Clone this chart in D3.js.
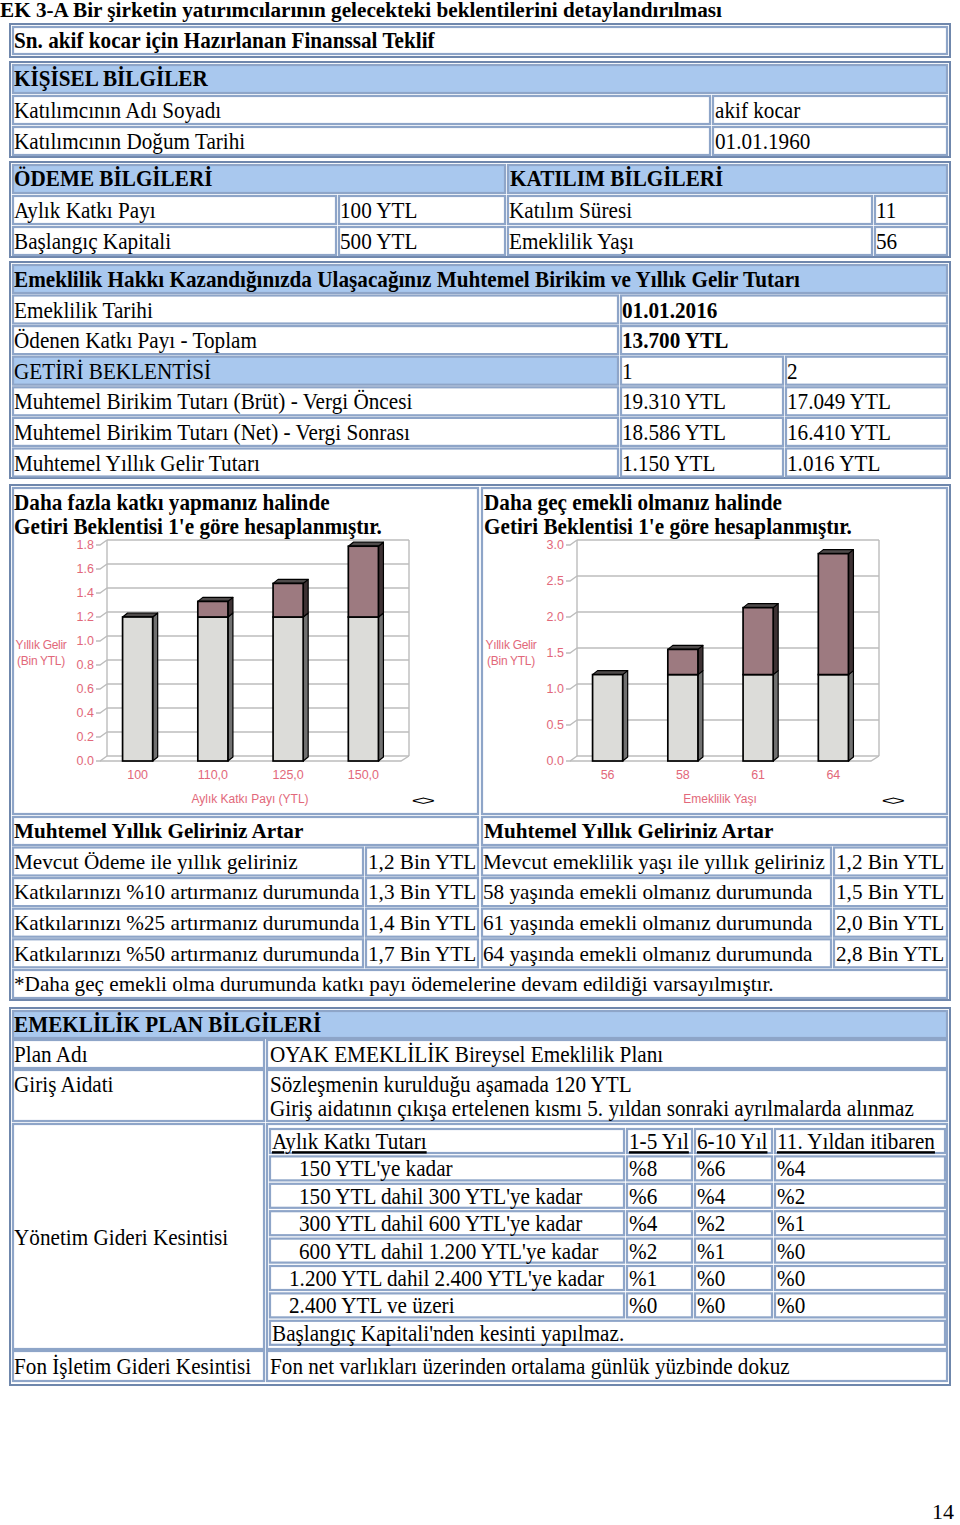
<!DOCTYPE html>
<html><head><meta charset="utf-8">
<script src="https://cdn.jsdelivr.net/npm/d3@7"></script>
<style>body{margin:0;background:#fff} svg{display:block}</style>
</head><body>
<script>
// ---------- DATA ----------
const pageTitle = "EK 3-A Bir şirketin yatırımcılarının gelecekteki beklentilerini detaylandırılması";
const offerTitle = "Sn. akif kocar için Hazırlanan Finanssal Teklif";
const personalRows = [["Katılımcının Adı Soyadı","akif kocar"],["Katılımcının Doğum Tarihi","01.01.1960"]];
const paymentRows = [["Aylık Katkı Payı","100 YTL","Katılım Süresi","11"],["Başlangıç Kapitali","500 YTL","Emeklilik Yaşı","56"]];
const resultHeader = "Emeklilik Hakkı Kazandığınızda Ulaşacağınız Muhtemel Birikim ve Yıllık Gelir Tutarı";
const resultRows1 = [["Emeklilik Tarihi","01.01.2016"],["Ödenen Katkı Payı - Toplam","13.700 YTL"]];
const resultRows2 = [["GETİRİ BEKLENTİSİ","1","2"],
  ["Muhtemel Birikim Tutarı (Brüt) - Vergi Öncesi","19.310 YTL","17.049 YTL"],
  ["Muhtemel Birikim Tutarı (Net) - Vergi Sonrası","18.586 YTL","16.410 YTL"],
  ["Muhtemel Yıllık Gelir Tutarı","1.150 YTL","1.016 YTL"]];
const leftChartTitle = ["Daha fazla katkı yapmanız halinde","Getiri Beklentisi 1'e göre hesaplanmıştır."];
const rightChartTitle = ["Daha geç emekli olmanız halinde","Getiri Beklentisi 1'e göre hesaplanmıştır."];
const leftCategories = ["100","110,0","125,0","150,0"];
const leftBase = [1.2,1.2,1.2,1.2];
const leftExtra = [0,0.13,0.28,0.59];
const leftTicks = [0,0.2,0.4,0.6,0.8,1.0,1.2,1.4,1.6,1.8];
const leftXLabel = "Aylık Katkı Payı (YTL)";
const rightCategories = ["56","58","61","64"];
const rightBase = [1.2,1.2,1.2,1.2];
const rightExtra = [0,0.35,0.93,1.68];
const rightTicks = [0,0.5,1.0,1.5,2.0,2.5,3.0];
const rightXLabel = "Emeklilik Yaşı";
const yLabelLines = ["Yıllık Gelir","(Bin YTL)"];
const incomeHeader = "Muhtemel Yıllık Geliriniz Artar";
const leftIncomeRows = [["Mevcut Ödeme ile yıllık geliriniz","1,2 Bin YTL"],["Katkılarınızı %10 artırmanız durumunda","1,3 Bin YTL"],["Katkılarınızı %25 artırmanız durumunda","1,4 Bin YTL"],["Katkılarınızı %50 artırmanız durumunda","1,7 Bin YTL"]];
const rightIncomeRows = [["Mevcut emeklilik yaşı ile yıllık geliriniz","1,2 Bin YTL"],["58 yaşında emekli olmanız durumunda","1,5 Bin YTL"],["61 yaşında emekli olmanız durumunda","2,0 Bin YTL"],["64 yaşında emekli olmanız durumunda","2,8 Bin YTL"]];
const footnote = "*Daha geç emekli olma durumunda katkı payı ödemelerine devam edildiği varsayılmıştır.";
const planHeader = "EMEKLİLİK PLAN BİLGİLERİ";
const planName = ["Plan Adı","OYAK EMEKLİLİK Bireysel Emeklilik Planı"];
const entryFee = ["Giriş Aidati","Sözleşmenin kurulduğu aşamada 120 YTL","Giriş aidatının çıkışa ertelenen kısmı 5. yıldan sonraki ayrılmalarda alınmaz"];
const mgmtLabel = "Yönetim Gideri Kesintisi";
const feeHeader = ["Aylık Katkı Tutarı","1-5 Yıl","6-10 Yıl","11. Yıldan itibaren"];
const feeRows = [["150 YTL'ye kadar","%8","%6","%4"],["150 YTL dahil 300 YTL'ye kadar","%6","%4","%2"],["300 YTL dahil 600 YTL'ye kadar","%4","%2","%1"],["600 YTL dahil 1.200 YTL'ye kadar","%2","%1","%0"],["1.200 YTL dahil 2.400 YTL'ye kadar","%1","%0","%0"],["2.400 YTL ve üzeri","%0","%0","%0"]];
const feeIndent = [29,29,29,29,19,19];
const feeNote = "Başlangıç Kapitali'nden kesinti yapılmaz.";
const fundFee = ["Fon İşletim Gideri Kesintisi","Fon net varlıkları üzerinden ortalama günlük yüzbinde dokuz"];
const pageNumber = "14";

// ---------- DRAW ----------
const svg = d3.select('body').append('svg').attr('width',960).attr('height',1525);
svg.append('rect').attr('width',960).attr('height',1525).attr('fill','#fff');
const SERIF = "'Liberation Serif','Times New Roman',serif";
const SANS = "'Liberation Sans',Arial,sans-serif";
const FS = 21.2;
const BLUE = '#a9c8ee';
const PINK = '#e2687a';
function T(x, yc, s, o={}) {
  const sy = o.sy ?? 1.12;
  const g = svg.append('g').attr('transform',`translate(${x},${yc}) scale(1,${sy})`);
  const t = g.append('text').attr('x',0).attr('y',0).attr('dy','0.34em')
    .attr('font-family', o.font||SERIF).attr('font-size', o.size||FS)
    .attr('font-weight', o.bold?'bold':'normal').attr('fill', o.fill||'#000')
    .attr('text-anchor', o.anchor||'start').text(s);
  if (o.underline) t.style('text-decoration','underline');
  if (o.len) t.attr('textLength',o.len).attr('lengthAdjust','spacingAndGlyphs');
  return t;
}
function TBL(x0,y0,x1,y1){
  svg.append('rect').attr('x',x0).attr('y',y0).attr('width',x1-x0).attr('height',y1-y0)
    .attr('fill','#fff').attr('stroke','#6f87ac').attr('stroke-width',2);
}
function C(x0,y0,x1,y1,fill){
  svg.append('rect').attr('x',x0).attr('y',y0).attr('width',x1-x0).attr('height',y1-y0)
    .attr('fill',fill||'#fff').attr('stroke','#8ea5c8').attr('stroke-width',2.2);
}

// title
T(0, 10, pageTitle, {bold:true, len:722, size:20, sy:1.0});

// Table A
TBL(10,24,950,57); C(13,27,947,54);
T(14,40,offerTitle,{bold:true});

// Table B
TBL(10,62,950,157);
C(13,65,947,93,BLUE); T(14,78,"KİŞİSEL BİLGİLER",{bold:true});
personalRows.forEach((r,i)=>{
  const y0 = 96+i*31;
  C(13,y0,710,y0+28); C(713,y0,947,y0+28);
  T(14,y0+14,r[0]); T(715,y0+14,r[1]);
});

// Table C
TBL(10,162,950,257);
C(13,165,505,193,BLUE); C(508,165,947,193,BLUE);
T(14,178,"ÖDEME BİLGİLERİ",{bold:true}); T(510,178,"KATILIM BİLGİLERİ",{bold:true});
const colsC = [[13,336],[339,505],[508,872],[875,947]];
paymentRows.forEach((r,i)=>{
  const y0 = 196+i*31;
  colsC.forEach((c,j)=>{ C(c[0],y0,c[1],y0+28); T(c[0]+1,y0+14,r[j]); });
});

// Table D
TBL(10,262,950,478);
C(13,265,947,293,BLUE); T(14,279,resultHeader,{bold:true});
resultRows1.forEach((r,i)=>{
  const y0 = 295.5+i*30.6;
  C(13,y0,618,y0+28); C(621,y0,947,y0+28);
  T(14,y0+14,r[0]); T(622,y0+14,r[1],{bold:true});
});
resultRows2.forEach((r,i)=>{
  const y0 = 356.7+i*30.6;
  C(13,y0,618,y0+28,i===0?BLUE:'#fff'); C(621,y0,783,y0+28); C(786,y0,947,y0+28);
  T(14,y0+14,r[0]); T(622,y0+14,r[1]); T(787,y0+14,r[2]);
});

// Table E
TBL(10,485,950,1000);
C(13,488,478,814); C(482,488,947,814);
T(14,502,leftChartTitle[0],{bold:true}); T(14,526,leftChartTitle[1],{bold:true});
T(484,502,rightChartTitle[0],{bold:true}); T(484,526,rightChartTitle[1],{bold:true});

function chart(x0, cats, base, extra, ticks, maxV, xLabel, markX) {
  const dx = 8, dy = -5, W = 301;
  const y = d3.scaleLinear().domain([0,maxV]).range([761,545]);
  const x = d3.scaleBand().domain(cats).range([x0,x0+W]).paddingInner(0.6).paddingOuter(0.3);
  const g = svg.append('g');
  const grid = '#bcbcbc';
  ticks.forEach(v=>{
    g.append('line').attr('x1',x0+dx-1).attr('x2',x0+W+dx).attr('y1',y(v)+dy).attr('y2',y(v)+dy)
      .attr('stroke',grid).attr('stroke-width',1.4);
    g.append('path').attr('d',`M${x0-4},${y(v)}L${x0},${y(v)}L${x0+dx-1},${y(v)+dy}`)
      .attr('fill','none').attr('stroke',grid).attr('stroke-width',1.4);
  });
  g.append('line').attr('x1',x0+dx-1).attr('x2',x0+dx-1).attr('y1',y(maxV)+dy).attr('y2',y(0)+dy).attr('stroke',grid).attr('stroke-width',1.4);
  g.append('line').attr('x1',x0+W+dx).attr('x2',x0+W+dx).attr('y1',y(maxV)+dy).attr('y2',y(0)+dy).attr('stroke',grid).attr('stroke-width',1.4);
  g.append('path').attr('d',`M${x0},${y(0)}L${x0+W},${y(0)}L${x0+W+dx},${y(0)+dy}`).attr('fill','none').attr('stroke',grid).attr('stroke-width',1.4);
  ticks.forEach(v=>{
    g.append('text').attr('x',x0-6).attr('y',y(v)).attr('dy','0.35em').attr('text-anchor','end')
      .attr('font-family',SANS).attr('font-size',12.5).attr('fill',PINK).text(v.toFixed(1));
  });
  const bw = x.bandwidth(), bdx = 5, bdy = -4;
  function seg(i, v0, v1, front, side, top) {
    const xb = x(cats[i]);
    const yt = y(v1), yb = y(v0);
    g.append('polygon').attr('points',`${xb+bw},${yt} ${xb+bw+bdx},${yt+bdy} ${xb+bw+bdx},${yb+bdy} ${xb+bw},${yb}`)
      .attr('fill',side).attr('stroke','#000').attr('stroke-width',1.2).attr('stroke-linejoin','round');
    if (top) g.append('polygon').attr('points',`${xb},${yt} ${xb+bdx},${yt+bdy} ${xb+bw+bdx},${yt+bdy} ${xb+bw},${yt}`)
      .attr('fill',top).attr('stroke','#000').attr('stroke-width',1.2).attr('stroke-linejoin','round');
    g.append('rect').attr('x',xb).attr('y',yt).attr('width',bw).attr('height',yb-yt)
      .attr('fill',front).attr('stroke','#000').attr('stroke-width',1.7);
  }
  cats.forEach((c,i)=>{
    seg(i, 0, base[i], '#dcdcd9', '#707070', extra[i] > 0 ? null : '#4f4b4b');
  });
  cats.forEach((c,i)=>{
    if (extra[i] > 0) seg(i, base[i], base[i]+extra[i], '#9d7a80', '#3d3133', '#4f4b4b');
  });
  cats.forEach(c=>{
    g.append('text').attr('x',x(c)+bw/2).attr('y',775).attr('dy','0.35em').attr('text-anchor','middle')
      .attr('font-family',SANS).attr('font-size',12.5).attr('fill',PINK).text(c);
  });
  g.append('text').attr('x',x0+150).attr('y',799).attr('dy','0.35em').attr('text-anchor','middle')
    .attr('font-family',SANS).attr('font-size',12).attr('fill',PINK).text(xLabel);
  yLabelLines.forEach((l,k)=>{
    g.append('text').attr('x',x0-59).attr('y',645+k*16).attr('dy','0.35em').attr('text-anchor','middle')
      .attr('font-family',SANS).attr('font-size',12).attr('fill',PINK).attr('letter-spacing',-0.3).text(l);
  });
  g.append('g').attr('transform',`translate(${markX},800) scale(1.3,0.8)`)
    .append('text').attr('x',0).attr('y',0).attr('dy','0.35em').attr('text-anchor','middle')
    .attr('font-family',SANS).attr('font-size',17).attr('fill','#000').attr('letter-spacing',-2).text('<>');
}
chart(100, leftCategories, leftBase, leftExtra, leftTicks, 1.8, leftXLabel, 422);
chart(570, rightCategories, rightBase, rightExtra, rightTicks, 3.0, rightXLabel, 892);

C(13,817,478,845); C(482,817,947,845);
T(14,831,incomeHeader,{bold:true,sy:1.0}); T(484,831,incomeHeader,{bold:true,sy:1.0});
leftIncomeRows.forEach((r,i)=>{
  const y0 = 847.5+i*30.6;
  C(13,y0,363,y0+28); C(366,y0,478,y0+28);
  T(14,y0+14,r[0],{sy:1.0}); T(368,y0+14,r[1],{sy:1.0});
});
rightIncomeRows.forEach((r,i)=>{
  const y0 = 847.5+i*30.6;
  C(482,y0,831,y0+28); C(834,y0,947,y0+28);
  T(483,y0+14,r[0],{sy:1.0}); T(836,y0+14,r[1],{sy:1.0});
});
C(13,970,947,998); T(14,984,footnote,{sy:1.0});

// Table F
TBL(10,1008,950,1385);
C(13,1011,947,1038,BLUE); T(14,1024,planHeader,{bold:true});
C(13,1040,264,1068); C(267,1040,947,1068);
T(14,1054,planName[0]); T(270,1054,planName[1]);
C(13,1070,264,1121); C(267,1070,947,1121);
T(14,1084,entryFee[0]); T(270,1084,entryFee[1]); T(270,1108,entryFee[2]);
C(13,1124,264,1349); C(267,1124,947,1349);
T(14,1237,mgmtLabel);
const feeCols = [[270,624],[627,692],[695,772],[775,945]];
const rowC = i => 1141 + i*27.4;
feeCols.forEach((c,j)=>{ C(c[0],rowC(0)-12,c[1],rowC(0)+12); T(c[0]+2,rowC(0),feeHeader[j],{underline:true}); });
feeRows.forEach((r,i)=>{
  const yc = rowC(i+1);
  feeCols.forEach((c,j)=>{
    C(c[0],yc-12,c[1],yc+12);
    T(j===0 ? c[0]+feeIndent[i] : c[0]+2, yc, r[j]);
  });
});
C(270,rowC(7)-12,945,rowC(7)+12); T(272,rowC(7),feeNote);
C(13,1351,264,1381); C(267,1351,947,1381);
T(14,1366,fundFee[0]); T(270,1366,fundFee[1]);

T(954,1512,pageNumber,{anchor:'end',size:22,sy:1.0});
</script></body></html>
